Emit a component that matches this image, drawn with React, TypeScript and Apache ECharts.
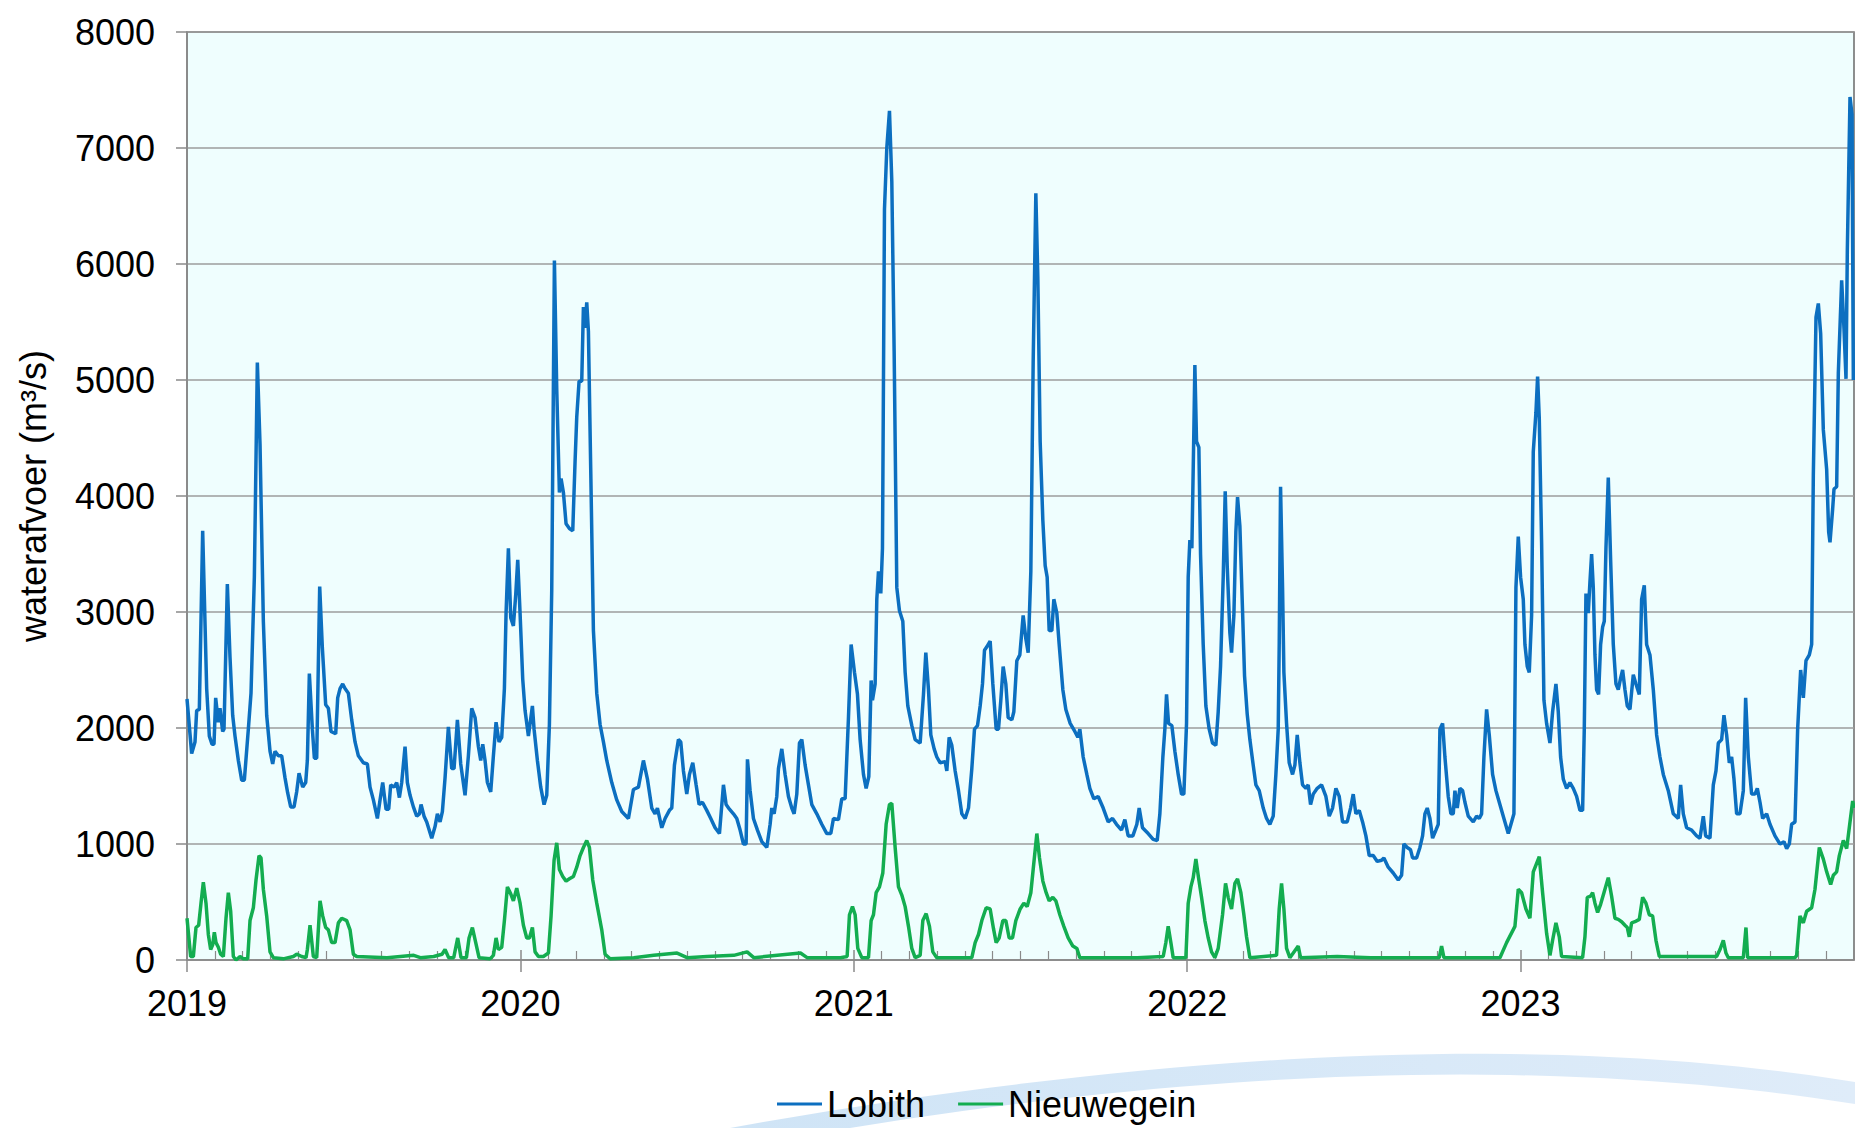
import React, { useEffect, useRef } from "react";
import * as echarts from "echarts";

// Tick labels / categories
const YEARS = ["2019", "2020", "2021", "2022", "2023"];
const SERIES_NAMES = ["Lobith", "Nieuwegein"];
const Y_MIN = 0;
const Y_MAX = 8000;
const Y_STEP = 1000;

// Discharge (m3/s), x = decimal year
const lobith: [number, number][] = [
  [2019.000, 2250], [2019.014, 1780], [2019.024, 1880], [2019.029, 2150], [2019.037, 2160],
  [2019.047, 3700], [2019.059, 2340], [2019.067, 1930], [2019.075, 1860], [2019.081, 1860],
  [2019.086, 2260], [2019.094, 2050], [2019.099, 2170], [2019.107, 1970], [2019.111, 1990],
  [2019.121, 3240], [2019.129, 2610], [2019.137, 2110], [2019.144, 1930], [2019.154, 1720],
  [2019.164, 1550], [2019.172, 1550], [2019.184, 1990], [2019.192, 2300], [2019.202, 3300],
  [2019.211, 5150], [2019.219, 4450], [2019.229, 2920], [2019.239, 2110], [2019.249, 1800],
  [2019.257, 1690], [2019.264, 1800], [2019.274, 1760], [2019.284, 1760], [2019.294, 1570],
  [2019.302, 1440], [2019.311, 1320], [2019.321, 1320], [2019.329, 1450], [2019.336, 1610],
  [2019.347, 1490], [2019.356, 1530], [2019.361, 1720], [2019.367, 2470], [2019.376, 1990],
  [2019.382, 1740], [2019.389, 1740], [2019.398, 3220], [2019.406, 2690], [2019.416, 2200],
  [2019.424, 2170], [2019.432, 1970], [2019.446, 1950], [2019.452, 2260], [2019.459, 2340],
  [2019.467, 2380], [2019.474, 2340], [2019.484, 2300], [2019.494, 2070], [2019.504, 1880],
  [2019.514, 1760], [2019.529, 1700], [2019.541, 1690], [2019.549, 1490], [2019.559, 1380],
  [2019.571, 1220], [2019.579, 1380], [2019.587, 1530], [2019.597, 1300], [2019.605, 1300],
  [2019.611, 1510], [2019.621, 1490], [2019.629, 1530], [2019.637, 1400], [2019.644, 1530],
  [2019.654, 1840], [2019.661, 1530], [2019.669, 1420], [2019.679, 1320], [2019.689, 1240],
  [2019.697, 1260], [2019.702, 1340], [2019.711, 1240], [2019.719, 1190], [2019.734, 1050],
  [2019.744, 1150], [2019.751, 1260], [2019.759, 1190], [2019.766, 1280], [2019.774, 1570],
  [2019.784, 2010], [2019.794, 1650], [2019.801, 1650], [2019.811, 2070], [2019.821, 1690],
  [2019.834, 1420], [2019.844, 1760], [2019.854, 2170], [2019.864, 2090], [2019.874, 1840],
  [2019.881, 1720], [2019.887, 1860], [2019.894, 1720], [2019.901, 1530], [2019.911, 1450],
  [2019.919, 1760], [2019.927, 2050], [2019.936, 1880], [2019.944, 1920], [2019.952, 2340],
  [2019.957, 2990], [2019.964, 3550], [2019.971, 2950], [2019.979, 2880], [2019.986, 3150],
  [2019.992, 3450], [2019.999, 2990], [2020.007, 2420], [2020.014, 2150], [2020.024, 1930],
  [2020.036, 2190], [2020.041, 1990], [2020.051, 1720], [2020.061, 1490], [2020.071, 1340],
  [2020.079, 1420], [2020.087, 2030], [2020.094, 3190], [2020.102, 6030], [2020.109, 4920],
  [2020.117, 4030], [2020.122, 4150], [2020.129, 4030], [2020.137, 3760], [2020.147, 3720],
  [2020.157, 3700], [2020.164, 4300], [2020.169, 4680], [2020.176, 4990], [2020.184, 4990],
  [2020.189, 5630], [2020.194, 5450], [2020.199, 5670], [2020.204, 5420], [2020.211, 4220],
  [2020.219, 2840], [2020.229, 2300], [2020.239, 2030], [2020.249, 1880], [2020.259, 1720],
  [2020.274, 1530], [2020.289, 1380], [2020.304, 1280], [2020.324, 1220], [2020.339, 1470],
  [2020.354, 1490], [2020.369, 1720], [2020.381, 1560], [2020.394, 1310], [2020.404, 1260],
  [2020.411, 1310], [2020.424, 1140], [2020.434, 1220], [2020.447, 1290], [2020.454, 1310],
  [2020.462, 1680], [2020.474, 1900], [2020.481, 1880], [2020.489, 1630], [2020.499, 1430],
  [2020.507, 1600], [2020.517, 1700], [2020.527, 1510], [2020.536, 1340], [2020.546, 1360],
  [2020.559, 1290], [2020.571, 1220], [2020.584, 1140], [2020.597, 1090], [2020.609, 1510],
  [2020.617, 1340], [2020.627, 1300], [2020.639, 1260], [2020.649, 1220], [2020.659, 1120],
  [2020.669, 1000], [2020.677, 1000], [2020.681, 1730], [2020.689, 1460], [2020.699, 1220],
  [2020.711, 1120], [2020.724, 1020], [2020.739, 970], [2020.749, 1170], [2020.754, 1310],
  [2020.761, 1260], [2020.769, 1410], [2020.774, 1650], [2020.784, 1820], [2020.794, 1600],
  [2020.804, 1410], [2020.814, 1310], [2020.821, 1260], [2020.829, 1430], [2020.837, 1870],
  [2020.844, 1900], [2020.854, 1680], [2020.864, 1510], [2020.874, 1340], [2020.889, 1260],
  [2020.904, 1170], [2020.919, 1090], [2020.931, 1090], [2020.939, 1220], [2020.954, 1210],
  [2020.964, 1390], [2020.974, 1390], [2020.984, 2090], [2020.992, 2720], [2021.002, 2480],
  [2021.011, 2290], [2021.019, 1900], [2021.029, 1600], [2021.037, 1480], [2021.045, 1580],
  [2021.052, 2410], [2021.056, 2240], [2021.064, 2380], [2021.069, 3110], [2021.074, 3350],
  [2021.081, 3160], [2021.086, 3550], [2021.092, 6470], [2021.099, 7000], [2021.107, 7320],
  [2021.114, 6710], [2021.121, 5250], [2021.129, 3210], [2021.137, 3010], [2021.147, 2920],
  [2021.154, 2480], [2021.162, 2190], [2021.174, 2020], [2021.184, 1900], [2021.199, 1870],
  [2021.209, 2290], [2021.216, 2650], [2021.224, 2330], [2021.231, 1940], [2021.241, 1820],
  [2021.249, 1750], [2021.259, 1700], [2021.274, 1710], [2021.279, 1630], [2021.286, 1920],
  [2021.294, 1850], [2021.304, 1630], [2021.314, 1460], [2021.324, 1260], [2021.334, 1220],
  [2021.344, 1310], [2021.354, 1650], [2021.362, 1990], [2021.371, 2020], [2021.379, 2190],
  [2021.386, 2380], [2021.392, 2670], [2021.399, 2700], [2021.409, 2750], [2021.417, 2380],
  [2021.427, 1990], [2021.434, 1990], [2021.441, 2240], [2021.448, 2530], [2021.456, 2380],
  [2021.463, 2090], [2021.474, 2070], [2021.480, 2140], [2021.489, 2580], [2021.498, 2630],
  [2021.508, 2970], [2021.516, 2770], [2021.523, 2650], [2021.531, 3350], [2021.538, 5150],
  [2021.546, 6610], [2021.552, 5880], [2021.559, 4470], [2021.567, 3790], [2021.574, 3400],
  [2021.580, 3300], [2021.586, 2840], [2021.594, 2840], [2021.600, 3110], [2021.609, 2990],
  [2021.616, 2720], [2021.627, 2330], [2021.636, 2160], [2021.649, 2040], [2021.663, 1970],
  [2021.672, 1920], [2021.678, 1990], [2021.688, 1750], [2021.699, 1600], [2021.708, 1480],
  [2021.720, 1390], [2021.733, 1410], [2021.748, 1310], [2021.763, 1190], [2021.776, 1220],
  [2021.788, 1170], [2021.803, 1120], [2021.813, 1210], [2021.823, 1070], [2021.837, 1070],
  [2021.849, 1170], [2021.856, 1310], [2021.866, 1140], [2021.883, 1090], [2021.898, 1040],
  [2021.910, 1030], [2021.918, 1260], [2021.927, 1750], [2021.933, 1990], [2021.938, 2290],
  [2021.944, 2040], [2021.954, 2020], [2021.963, 1800], [2021.973, 1600], [2021.983, 1430],
  [2021.990, 1430], [2021.998, 2040], [2022.003, 3300], [2022.008, 3620], [2022.014, 3550],
  [2022.020, 4570], [2022.023, 5130], [2022.028, 4470], [2022.035, 4420], [2022.040, 3500],
  [2022.048, 2720], [2022.056, 2190], [2022.066, 1990], [2022.076, 1870], [2022.086, 1850],
  [2022.093, 2140], [2022.100, 2530], [2022.108, 3300], [2022.114, 4040], [2022.120, 3400],
  [2022.128, 2820], [2022.133, 2650], [2022.140, 2970], [2022.146, 3690], [2022.151, 3990],
  [2022.158, 3740], [2022.165, 3100], [2022.172, 2450], [2022.180, 2120], [2022.188, 1900],
  [2022.198, 1680], [2022.206, 1510], [2022.216, 1460], [2022.228, 1310], [2022.238, 1220],
  [2022.248, 1170], [2022.258, 1240], [2022.266, 1600], [2022.273, 1990], [2022.276, 2720],
  [2022.280, 4080], [2022.286, 3210], [2022.290, 2480], [2022.298, 2040], [2022.306, 1700],
  [2022.316, 1600], [2022.323, 1680], [2022.330, 1940], [2022.338, 1700], [2022.346, 1510],
  [2022.356, 1480], [2022.363, 1510], [2022.370, 1340], [2022.378, 1430], [2022.390, 1480],
  [2022.403, 1510], [2022.416, 1410], [2022.426, 1240], [2022.436, 1310], [2022.446, 1480],
  [2022.456, 1410], [2022.466, 1190], [2022.480, 1190], [2022.490, 1310], [2022.498, 1430],
  [2022.506, 1260], [2022.516, 1290], [2022.526, 1190], [2022.536, 1070], [2022.546, 900],
  [2022.558, 900], [2022.570, 850], [2022.583, 860], [2022.590, 880], [2022.603, 800],
  [2022.618, 750], [2022.633, 690], [2022.643, 730], [2022.650, 1000], [2022.660, 970],
  [2022.670, 950], [2022.676, 880], [2022.688, 880], [2022.698, 970], [2022.706, 1070],
  [2022.713, 1260], [2022.720, 1310], [2022.728, 1220], [2022.736, 1050], [2022.746, 1120],
  [2022.753, 1170], [2022.758, 1990], [2022.766, 2040], [2022.773, 1750], [2022.783, 1410],
  [2022.791, 1260], [2022.798, 1260], [2022.803, 1460], [2022.810, 1310], [2022.818, 1480],
  [2022.826, 1460], [2022.833, 1360], [2022.843, 1240], [2022.858, 1190], [2022.868, 1240],
  [2022.876, 1220], [2022.883, 1260], [2022.890, 1750], [2022.898, 2160], [2022.906, 1940],
  [2022.916, 1600], [2022.926, 1460], [2022.936, 1360], [2022.948, 1240], [2022.963, 1090],
  [2022.973, 1190], [2022.980, 1260], [2022.986, 3210], [2022.993, 3650], [2023.000, 3300],
  [2023.008, 3110], [2023.013, 2720], [2023.020, 2530], [2023.026, 2480], [2023.033, 2970],
  [2023.038, 4380], [2023.046, 4720], [2023.051, 5030], [2023.056, 4670], [2023.063, 3600],
  [2023.070, 2240], [2023.078, 2040], [2023.088, 1870], [2023.096, 2140], [2023.106, 2380],
  [2023.113, 2140], [2023.120, 1750], [2023.128, 1560], [2023.138, 1480], [2023.148, 1530],
  [2023.158, 1480], [2023.168, 1410], [2023.178, 1290], [2023.186, 1290], [2023.191, 1990],
  [2023.196, 3160], [2023.203, 2990], [2023.208, 3260], [2023.213, 3500], [2023.218, 3210],
  [2023.223, 2630], [2023.228, 2330], [2023.234, 2290], [2023.240, 2720], [2023.246, 2870],
  [2023.251, 2920], [2023.256, 3550], [2023.263, 4160], [2023.270, 3450], [2023.278, 2720],
  [2023.286, 2380], [2023.293, 2330], [2023.300, 2430], [2023.306, 2500], [2023.313, 2330],
  [2023.320, 2190], [2023.328, 2160], [2023.338, 2460], [2023.346, 2380], [2023.356, 2290],
  [2023.363, 3110], [2023.371, 3230], [2023.378, 2720], [2023.388, 2630], [2023.398, 2330],
  [2023.408, 1940], [2023.418, 1750], [2023.428, 1600], [2023.443, 1460], [2023.458, 1260],
  [2023.473, 1220], [2023.480, 1510], [2023.488, 1260], [2023.498, 1140], [2023.513, 1120],
  [2023.528, 1070], [2023.538, 1050], [2023.548, 1240], [2023.555, 1070], [2023.568, 1050],
  [2023.578, 1510], [2023.586, 1630], [2023.593, 1870], [2023.603, 1900], [2023.610, 2110],
  [2023.618, 1940], [2023.626, 1700], [2023.633, 1750], [2023.640, 1560], [2023.648, 1260],
  [2023.658, 1260], [2023.668, 1460], [2023.675, 2260], [2023.683, 1750], [2023.693, 1430],
  [2023.703, 1430], [2023.710, 1480], [2023.718, 1360], [2023.726, 1220], [2023.738, 1260],
  [2023.748, 1170], [2023.763, 1070], [2023.778, 1000], [2023.790, 1020], [2023.798, 960],
  [2023.806, 1000], [2023.813, 1170], [2023.823, 1190], [2023.831, 1990], [2023.840, 2500],
  [2023.848, 2260], [2023.856, 2580], [2023.866, 2630], [2023.873, 2720], [2023.878, 4180],
  [2023.886, 5540], [2023.893, 5660], [2023.900, 5400], [2023.908, 4570], [2023.918, 4230],
  [2023.924, 3690], [2023.928, 3600], [2023.936, 3890], [2023.940, 4060], [2023.948, 4080],
  [2023.953, 5060], [2023.963, 5860], [2023.970, 5440], [2023.976, 5010], [2023.980, 6120],
  [2023.988, 7440], [2023.994, 7290], [2023.998, 5000],
];

const nieuwegein: [number, number][] = [
  [2019.000, 360], [2019.011, 30], [2019.019, 30], [2019.027, 280], [2019.035, 300],
  [2019.042, 490], [2019.049, 670], [2019.057, 490], [2019.064, 220], [2019.071, 90],
  [2019.077, 130], [2019.082, 240], [2019.087, 150], [2019.094, 110], [2019.101, 50],
  [2019.109, 30], [2019.117, 360], [2019.124, 580], [2019.131, 420], [2019.139, 30],
  [2019.147, 0], [2019.159, 30], [2019.169, 10], [2019.182, 10], [2019.189, 340],
  [2019.199, 450], [2019.207, 690], [2019.216, 900], [2019.222, 880], [2019.229, 610],
  [2019.239, 380], [2019.249, 70], [2019.259, 20], [2019.289, 10], [2019.319, 30],
  [2019.329, 50], [2019.344, 30], [2019.357, 20], [2019.361, 90], [2019.369, 300],
  [2019.379, 30], [2019.389, 20], [2019.399, 510], [2019.407, 380], [2019.416, 280],
  [2019.424, 260], [2019.434, 150], [2019.444, 150], [2019.454, 320], [2019.464, 360],
  [2019.479, 340], [2019.489, 260], [2019.499, 50], [2019.509, 30], [2019.600, 20],
  [2019.680, 40], [2019.700, 20], [2019.740, 30], [2019.765, 50], [2019.774, 90],
  [2019.785, 20], [2019.800, 20], [2019.812, 190], [2019.822, 20], [2019.838, 20],
  [2019.846, 190], [2019.856, 280], [2019.866, 150], [2019.876, 20], [2019.909, 10],
  [2019.919, 40], [2019.927, 190], [2019.934, 90], [2019.944, 110], [2019.952, 340],
  [2019.961, 630], [2019.971, 570], [2019.979, 510], [2019.989, 620], [2019.999, 490],
  [2020.009, 300], [2020.019, 190], [2020.027, 190], [2020.036, 280], [2020.044, 70],
  [2020.054, 30], [2020.069, 30], [2020.084, 60], [2020.092, 380], [2020.101, 860],
  [2020.109, 1010], [2020.117, 780], [2020.127, 720], [2020.137, 680], [2020.147, 700],
  [2020.159, 720], [2020.169, 800], [2020.179, 900], [2020.189, 970], [2020.199, 1030],
  [2020.207, 970], [2020.217, 690], [2020.229, 490], [2020.244, 260], [2020.254, 50],
  [2020.269, 10], [2020.340, 20], [2020.400, 40], [2020.470, 60], [2020.500, 20],
  [2020.560, 30], [2020.640, 40], [2020.680, 70], [2020.700, 20], [2020.840, 60],
  [2020.860, 20], [2020.960, 20], [2020.980, 30], [2020.987, 390], [2020.996, 460],
  [2021.004, 390], [2021.012, 100], [2021.024, 20], [2021.044, 20], [2021.052, 340],
  [2021.059, 390], [2021.067, 580], [2021.077, 630], [2021.087, 750], [2021.097, 1170],
  [2021.107, 1340], [2021.114, 1350], [2021.124, 970], [2021.134, 630], [2021.144, 560],
  [2021.154, 460], [2021.164, 290], [2021.174, 100], [2021.184, 20], [2021.199, 40],
  [2021.207, 340], [2021.217, 400], [2021.227, 290], [2021.237, 70], [2021.249, 20],
  [2021.354, 20], [2021.364, 150], [2021.374, 220], [2021.384, 340], [2021.397, 450],
  [2021.409, 440], [2021.419, 270], [2021.427, 150], [2021.436, 190], [2021.447, 340],
  [2021.456, 340], [2021.466, 190], [2021.476, 190], [2021.486, 340], [2021.499, 440],
  [2021.510, 490], [2021.520, 460], [2021.531, 580], [2021.538, 780], [2021.549, 1090],
  [2021.557, 880], [2021.567, 680], [2021.577, 580], [2021.586, 510], [2021.597, 540],
  [2021.606, 510], [2021.618, 390], [2021.630, 290], [2021.643, 190], [2021.657, 120],
  [2021.669, 100], [2021.678, 20], [2021.750, 20], [2021.850, 20], [2021.928, 30],
  [2021.936, 150], [2021.943, 290], [2021.951, 150], [2021.958, 20], [2021.996, 20],
  [2022.003, 490], [2022.011, 630], [2022.018, 710], [2022.026, 870], [2022.034, 710],
  [2022.043, 540], [2022.053, 340], [2022.063, 190], [2022.073, 70], [2022.083, 20],
  [2022.093, 100], [2022.106, 390], [2022.115, 660], [2022.123, 540], [2022.133, 440],
  [2022.143, 660], [2022.151, 700], [2022.161, 580], [2022.170, 390], [2022.178, 200],
  [2022.188, 20], [2022.268, 40], [2022.276, 440], [2022.283, 660], [2022.290, 440],
  [2022.298, 100], [2022.308, 20], [2022.333, 120], [2022.340, 20], [2022.450, 30],
  [2022.550, 20], [2022.756, 20], [2022.763, 120], [2022.770, 20], [2022.938, 20],
  [2022.958, 150], [2022.983, 290], [2022.993, 610], [2023.003, 580], [2023.016, 440],
  [2023.028, 360], [2023.038, 760], [2023.056, 890], [2023.066, 580], [2023.078, 230],
  [2023.088, 40], [2023.096, 170], [2023.106, 320], [2023.116, 200], [2023.123, 30],
  [2023.186, 20], [2023.193, 200], [2023.200, 540], [2023.210, 550], [2023.216, 580],
  [2023.223, 490], [2023.231, 410], [2023.240, 480], [2023.250, 580], [2023.263, 710],
  [2023.273, 550], [2023.283, 360], [2023.293, 350], [2023.303, 330], [2023.313, 300],
  [2023.320, 280], [2023.326, 200], [2023.333, 320], [2023.343, 330], [2023.356, 350],
  [2023.366, 540], [2023.376, 490], [2023.386, 390], [2023.396, 380], [2023.406, 170],
  [2023.416, 30], [2023.588, 30], [2023.598, 90], [2023.608, 170], [2023.616, 60],
  [2023.623, 20], [2023.668, 20], [2023.676, 280], [2023.681, 20], [2023.823, 20],
  [2023.828, 40], [2023.838, 380], [2023.848, 320], [2023.858, 420], [2023.873, 450],
  [2023.883, 610], [2023.896, 970], [2023.908, 870], [2023.918, 760], [2023.930, 650],
  [2023.938, 730], [2023.948, 760], [2023.956, 900], [2023.968, 1030], [2023.978, 960],
  [2023.988, 1190], [2023.996, 1370], [2024.000, 1310],
];

const COLORS = ["#0c6fc0", "#13ad50"];
const FONT = "'Liberation Sans', Arial, Helvetica, sans-serif";
const AXIS_GREY = "#8a8a8a";

function bezierPoints(p0: number[], p1: number[], p2: number[], n: number) {
  const pts: number[][] = [];
  for (let i = 0; i <= n; i++) {
    const t = i / n;
    const a = (1 - t) * (1 - t);
    const b = 2 * t * (1 - t);
    const c = t * t;
    pts.push([a * p0[0] + b * p1[0] + c * p2[0], a * p0[1] + b * p1[1] + c * p2[1]]);
  }
  return pts;
}

export default function App() {
  const ref = useRef<HTMLDivElement>(null);

  useEffect(() => {
    if (!ref.current) return;
    const chart = echarts.init(ref.current, null, { renderer: "svg" });

    const upper = bezierPoints([730, 1128], [1400, 1008], [1855, 1082], 40);
    const lower = bezierPoints([850, 1128], [1420, 1035], [1855, 1104], 40).reverse();
    const swoosh = upper.concat(lower);

    const lineCommon = {
      type: "line",
      showSymbol: false,
      symbol: "none",
      smooth: false,
      clip: true,
    };

    chart.setOption({
      animation: false,
      backgroundColor: "#ffffff",
      textStyle: { fontFamily: FONT },
      graphic: [
        {
          type: "polygon",
          silent: true,
          z: 0,
          shape: { points: swoosh },
          style: {
            fill: new echarts.graphic.LinearGradient(0, 0, 1, 0, [
              { offset: 0, color: "#cfe4f6" },
              { offset: 1, color: "#dfecf9" },
            ]),
          },
        },
      ],
      grid: {
        left: 187,
        top: 32,
        width: 1667,
        height: 928,
        show: true,
        backgroundColor: "#effefe",
        borderColor: "#6a6a6a",
        borderWidth: 1.5,
      },
      legend: {
        data: SERIES_NAMES,
        left: 777,
        top: 1086,
        padding: 0,
        icon: "rect",
        itemWidth: 45,
        itemHeight: 3,
        itemGap: 33,
        z: 10,
        textStyle: { fontSize: 36, color: "#000", fontFamily: FONT },
      },
      xAxis: [
        {
          type: "value",
          min: Number(YEARS[0]),
          max: Number(YEARS[YEARS.length - 1]) + 1,
          interval: 1,
          position: "bottom",
          axisLine: { show: true, onZero: false, lineStyle: { color: AXIS_GREY, width: 1.5 } },
          axisTick: { show: true, inside: false, length: 12, lineStyle: { color: AXIS_GREY, width: 1.5 } },
          minorTick: { show: false },
          splitLine: { show: false },
          axisLabel: {
            show: true,
            fontSize: 36,
            color: "#000",
            margin: 25,
            fontFamily: FONT,
            showMaxLabel: false,
            formatter: (v: number) => (YEARS.indexOf(String(v)) >= 0 ? String(v) : ""),
          },
        },
        {
          type: "value",
          min: Number(YEARS[0]),
          max: Number(YEARS[YEARS.length - 1]) + 1,
          interval: 1,
          position: "bottom",
          axisLine: { show: false, onZero: false },
          axisTick: { show: true, inside: true, length: 10, lineStyle: { color: AXIS_GREY, width: 1.5 } },
          minorTick: { show: true, splitNumber: 12, length: 9, lineStyle: { color: AXIS_GREY, width: 1.2 } },
          splitLine: { show: false },
          axisLabel: { show: false },
        },
      ],
      yAxis: {
        type: "value",
        min: Y_MIN,
        max: Y_MAX,
        interval: Y_STEP,
        axisLine: { show: true, lineStyle: { color: AXIS_GREY, width: 1.5 } },
        axisTick: { show: true, length: 11, lineStyle: { color: AXIS_GREY, width: 1.5 } },
        axisLabel: {
          fontSize: 36,
          color: "#000",
          margin: 32,
          fontFamily: FONT,
          formatter: (v: number) => String(v),
        },
        splitLine: { show: true, lineStyle: { color: "#9c9c9c", width: 1.5 } },
        name: "waterafvoer (m³/s)",
        nameLocation: "middle",
        nameGap: 136,
        nameTextStyle: { fontSize: 36, color: "#000", fontFamily: FONT },
      },
      series: [
        {
          ...lineCommon,
          name: SERIES_NAMES[0],
          xAxisIndex: 0,
          data: lobith,
          z: 3,
          lineStyle: { color: COLORS[0], width: 3.5 },
          itemStyle: { color: COLORS[0] },
        },
        {
          ...lineCommon,
          name: SERIES_NAMES[1],
          xAxisIndex: 0,
          data: nieuwegein,
          z: 4,
          lineStyle: { color: COLORS[1], width: 3.5 },
          itemStyle: { color: COLORS[1] },
        },
      ],
    });

    return () => chart.dispose();
  }, []);

  return (
    <div
      ref={ref}
      style={{ position: "absolute", left: 0, top: 0, width: 1855, height: 1128 }}
    />
  );
}
